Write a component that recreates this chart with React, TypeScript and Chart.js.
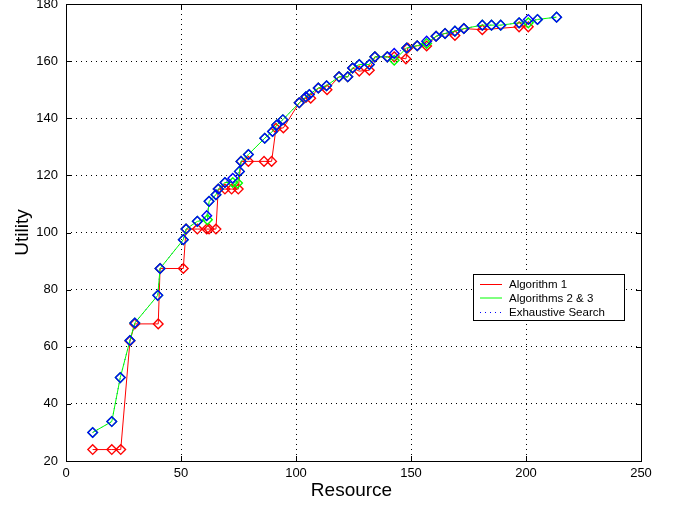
import React, { useEffect, useRef } from "react";
import { Chart, registerables } from "chart.js";
Chart.register(...registerables);

const seriesLabels = ["Algorithm 1", "Algorithms 2 & 3", "Exhaustive Search"];
const xTicks = [0, 50, 100, 150, 200, 250];
const yTicks = [20, 40, 60, 80, 100, 120, 140, 160, 180];
const xTitle = "Resource";
const yTitle = "Utility";

const alg1X = [11.6, 19.9, 23.8, 27.8, 29.9, 40.1, 40.9, 51, 52.2, 57.1, 61.2, 62.2, 65.2, 66.2, 69.1, 72, 74.9, 76.1, 79.3, 86.1, 89.4, 91.3, 94.5, 101.4, 104.3, 106.4, 109.7, 113.5, 118.7, 122.5, 124.6, 127.5, 131.9, 134.3, 139.7, 142.7, 147.8, 148.6, 152.7, 156.8, 160.9, 164.8, 169.1, 173, 181, 197, 201];
const alg1Y = [24, 24, 24, 62, 68, 68, 87.4, 87.4, 101.2, 101.2, 101.2, 101.2, 101.2, 115.2, 115.2, 115.2, 115.2, 124.9, 124.9, 124.9, 124.9, 136.5, 136.6, 145.4, 147.3, 147, 150.6, 150, 154.5, 154.5, 157.6, 156.5, 156.8, 161.5, 161.5, 161.5, 160.8, 164.6, 165.4, 165.3, 168.7, 169.7, 169, 171.4, 171, 172, 172];

const alg23X = [11.6, 19.9, 23.6, 27.8, 29.9, 39.9, 40.9, 51, 52.2, 57.1, 61.5, 62.2, 65.2, 66.2, 69.1, 72.5, 74.6, 75.4, 76.1, 79.3, 86.4, 89.8, 91.6, 94.3, 101.4, 104.3, 105.8, 109.7, 113.3, 118.7, 122.5, 124.6, 127.5, 131.9, 134.3, 139.7, 142.7, 148.1, 152.7, 156.8, 160.9, 164.8, 169.1, 173, 181, 185, 189, 197, 201, 205, 213.3];
const alg23Y = [30, 33.8, 49.2, 62.2, 68.3, 78, 87.4, 97.5, 101.2, 103.9, 104.5, 110.9, 113.2, 115.2, 117.5, 117.5, 117.3, 121.4, 124.9, 127.3, 133, 135.4, 137.6, 139.5, 145.4, 147.5, 148.3, 150.6, 151.4, 154.5, 154.5, 157.6, 158.8, 158.8, 161.5, 161.5, 160.3, 164.6, 165.4, 166.2, 168.7, 169.7, 170.5, 171.4, 172.6, 172.6, 172.6, 173.4, 173.4, 174.6, 175.4];

const exhX = [11.6, 19.9, 23.6, 27.8, 29.9, 39.9, 40.9, 51, 52.2, 57.1, 61.2, 62.2, 65.2, 66.2, 69.1, 72.5, 75.4, 76.1, 79.3, 86.4, 89.8, 91.6, 94.3, 101.4, 104.3, 105.8, 109.7, 113.3, 118.7, 122.5, 124.6, 127.5, 131.9, 134.3, 139.7, 142.7, 148.1, 152.7, 156.8, 160.9, 164.8, 169.1, 173, 181, 185, 189, 197, 201, 205, 213.3];
const exhY = [30, 33.8, 49.2, 62.2, 68.3, 78, 87.4, 97.5, 101.2, 103.9, 105.9, 110.9, 113.2, 115.2, 117.5, 119, 121.4, 124.9, 127.3, 133, 135.4, 137.6, 139.5, 145.4, 147.5, 148.3, 150.6, 151.4, 154.5, 154.5, 157.6, 158.8, 158.8, 161.5, 161.5, 162.7, 164.6, 165.4, 167, 168.7, 169.7, 170.5, 171.4, 172.6, 172.6, 172.6, 173.4, 174.6, 174.6, 175.4];

const colors = ["#ff0000", "#00ff00", "#0000ff"];
const FONT = "'Liberation Sans', Arial, Helvetica, sans-serif";

const toPts = (xs: number[], ys: number[]) => xs.map((x, i) => ({ x, y: ys[i] }));

const framePlugin = {
  id: "frame",
  afterDatasetsDraw(chart: any) {
    const { ctx, chartArea: a, scales } = chart;
    ctx.save();
    ctx.strokeStyle = "#000";
    ctx.lineWidth = 1;
    ctx.setLineDash([]);
    ctx.strokeRect(Math.round(a.left) + 0.5, Math.round(a.top) + 0.5, Math.round(a.right - a.left), Math.round(a.bottom - a.top));
    const tl = 5;
    ctx.beginPath();
    xTicks.forEach((v) => {
      const px = Math.round(scales.x.getPixelForValue(v)) + 0.5;
      ctx.moveTo(px, a.bottom); ctx.lineTo(px, a.bottom - tl);
      ctx.moveTo(px, a.top); ctx.lineTo(px, a.top + tl);
    });
    yTicks.forEach((v) => {
      const py = Math.round(scales.y.getPixelForValue(v)) + 0.5;
      ctx.moveTo(a.left, py); ctx.lineTo(a.left + tl, py);
      ctx.moveTo(a.right, py); ctx.lineTo(a.right - tl, py);
    });
    ctx.stroke();
    ctx.restore();
  },
  afterDraw(chart: any) {
    const { ctx, chartArea: a } = chart;
    ctx.save();
    ctx.fillStyle = "#000";
    ctx.font = `19px ${FONT}`;
    ctx.textAlign = "center";
    ctx.textBaseline = "middle";
    ctx.fillText(xTitle, (a.left + a.right) / 2 - 2, 491);
    ctx.translate(23, (a.top + a.bottom) / 2);
    ctx.rotate(-Math.PI / 2);
    ctx.fillText(yTitle, 0, 0);
    ctx.restore();

    ctx.save();
    const lx = 473.5, ly = 274.5, lw = 151, lh = 46;
    ctx.fillStyle = "#fff";
    ctx.fillRect(lx, ly, lw, lh);
    ctx.strokeStyle = "#000";
    ctx.lineWidth = 1;
    ctx.strokeRect(lx, ly, lw, lh);
    const rows = [284.5, 298, 312.5];
    ctx.font = `11.5px ${FONT}`;
    ctx.textAlign = "left";
    ctx.textBaseline = "middle";
    seriesLabels.forEach((lab, i) => {
      ctx.strokeStyle = colors[i];
      ctx.setLineDash(i === 2 ? [1, 4] : []);
      ctx.beginPath();
      ctx.moveTo(480, rows[i]);
      ctx.lineTo(502, rows[i]);
      ctx.stroke();
      ctx.fillStyle = "#000";
      ctx.fillText(lab, 509, rows[i] + 0.5);
    });
    ctx.restore();
  },
};

export default function App() {
  const ref = useRef<HTMLCanvasElement | null>(null);
  useEffect(() => {
    if (!ref.current) return;
    const mk = (i: number, xs: number[], ys: number[], order: number, showLine: boolean, showPoints: boolean) => ({
      label: seriesLabels[i],
      data: toPts(xs, ys),
      borderColor: colors[i],
      backgroundColor: "rgba(0,0,0,0)",
      borderWidth: 1,
      borderDash: i === 2 ? [1, 4] : [],
      showLine,
      pointStyle: "rectRot",
      pointRadius: showPoints ? 4.8 : 0,
      pointBorderWidth: 1.4,
      pointBorderColor: colors[i],
      pointBackgroundColor: "rgba(0,0,0,0)",
      tension: 0,
      fill: false,
      order,
    });
    const chart = new Chart(ref.current, {
      type: "line",
      data: {
        datasets: [
          mk(0, alg1X, alg1Y, 4, true, true),
          mk(2, exhX, exhY, 3, true, false),
          mk(1, alg23X, alg23Y, 2, true, true),
          mk(2, exhX, exhY, 1, false, true),
        ] as any,
      },
      options: {
        animation: false,
        responsive: true,
        maintainAspectRatio: false,
        layout: { autoPadding: false, padding: { top: 4, right: 36, left: 0, bottom: 0 } },
        plugins: { legend: { display: false }, tooltip: { enabled: false } },
        scales: {
          x: {
            type: "linear",
            min: 0,
            max: 250,
            afterBuildTicks: (s: any) => { s.ticks = xTicks.map((v) => ({ value: v })); },
            afterFit: (s: any) => { s.height = 45; s.paddingLeft = 0; s.paddingRight = 0; },
            grid: { color: "#000", lineWidth: 1, drawTicks: false },
            border: { display: false, dash: [1, 4] },
            ticks: { color: "#000", font: { family: FONT, size: 13 }, padding: 5, maxRotation: 0 },
          },
          y: {
            type: "linear",
            min: 20,
            max: 180,
            afterBuildTicks: (s: any) => { s.ticks = yTicks.map((v) => ({ value: v })); },
            afterFit: (s: any) => { s.width = 66; s.paddingTop = 0; s.paddingBottom = 0; },
            grid: { color: "#000", lineWidth: 1, drawTicks: false },
            border: { display: false, dash: [1, 4] },
            ticks: { color: "#000", font: { family: FONT, size: 13 }, padding: 8 },
          },
        },
      },
      plugins: [framePlugin],
    });
    return () => chart.destroy();
  }, []);
  return (
    <div style={{ position: "absolute", left: 0, top: 0, width: 677, height: 506, background: "#fff" }}>
      <canvas ref={ref} />
    </div>
  );
}
